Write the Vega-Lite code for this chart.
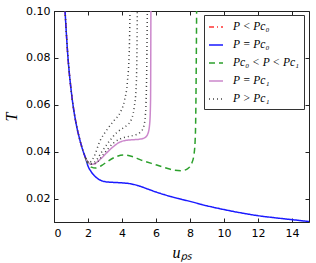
{
  "$schema": "https://vega.github.io/schema/vega-lite/v6.json",
  "width": 255,
  "height": 211,
  "autosize": {"type": "none"},
  "padding": {"left": 54, "top": 11, "right": 7, "bottom": 41},
  "background": "white",
  "config": {
    "view": {"stroke": "#222", "strokeWidth": 1},
    "axis": {
      "labelFont": "DejaVu Sans",
      "labelFontSize": 11,
      "labelColor": "black",
      "domainColor": "#222",
      "tickColor": "#222",
      "grid": false,
      "titleFont": "Liberation Serif",
      "titleFontStyle": "italic",
      "titleFontWeight": "normal",
      "titleFontSize": 16,
      "titleColor": "black"
    }
  },
  "data": {
    "values": [
      {"s": "P < Pc₀", "c": "r", "x": 0.65, "T": 0.1},
      {"s": "P < Pc₀", "c": "r", "x": 0.8, "T": 0.0823},
      {"s": "P < Pc₀", "c": "r", "x": 1.06, "T": 0.0631},
      {"s": "P < Pc₀", "c": "r", "x": 1.3, "T": 0.052},
      {"s": "P < Pc₀", "c": "r", "x": 1.5, "T": 0.0456},
      {"s": "P < Pc₀", "c": "r", "x": 1.7, "T": 0.0405},
      {"s": "P < Pc₀", "c": "r", "x": 1.86, "T": 0.0372},

      {"s": "P = Pc₀", "c": "b", "x": 0.65, "T": 0.1},
      {"s": "P = Pc₀", "c": "b", "x": 0.8, "T": 0.0823},
      {"s": "P = Pc₀", "c": "b", "x": 1.06, "T": 0.0631},
      {"s": "P = Pc₀", "c": "b", "x": 1.3, "T": 0.052},
      {"s": "P = Pc₀", "c": "b", "x": 1.5, "T": 0.0456},
      {"s": "P = Pc₀", "c": "b", "x": 1.7, "T": 0.0405},
      {"s": "P = Pc₀", "c": "b", "x": 1.86, "T": 0.0372},
      {"s": "P = Pc₀", "c": "b", "x": 2.0, "T": 0.0339},
      {"s": "P = Pc₀", "c": "b", "x": 2.2, "T": 0.0313},
      {"s": "P = Pc₀", "c": "b", "x": 2.5, "T": 0.0289},
      {"s": "P = Pc₀", "c": "b", "x": 2.8, "T": 0.0276},
      {"s": "P = Pc₀", "c": "b", "x": 3.1, "T": 0.0271},
      {"s": "P = Pc₀", "c": "b", "x": 3.5, "T": 0.0269},
      {"s": "P = Pc₀", "c": "b", "x": 4.0, "T": 0.0267},
      {"s": "P = Pc₀", "c": "b", "x": 4.5, "T": 0.0263},
      {"s": "P = Pc₀", "c": "b", "x": 5.0, "T": 0.0254},
      {"s": "P = Pc₀", "c": "b", "x": 5.5, "T": 0.0241},
      {"s": "P = Pc₀", "c": "b", "x": 6.0, "T": 0.0228},
      {"s": "P = Pc₀", "c": "b", "x": 7.0, "T": 0.0206},
      {"s": "P = Pc₀", "c": "b", "x": 8.0, "T": 0.0188},
      {"s": "P = Pc₀", "c": "b", "x": 9.0, "T": 0.0169},
      {"s": "P = Pc₀", "c": "b", "x": 10.0, "T": 0.0153},
      {"s": "P = Pc₀", "c": "b", "x": 11.0, "T": 0.0139},
      {"s": "P = Pc₀", "c": "b", "x": 12.0, "T": 0.0127},
      {"s": "P = Pc₀", "c": "b", "x": 13.0, "T": 0.0118},
      {"s": "P = Pc₀", "c": "b", "x": 14.0, "T": 0.011},
      {"s": "P = Pc₀", "c": "b", "x": 15.0, "T": 0.0102},

      {"s": "Pc₀ < P < Pc₁", "c": "g", "x": 1.86, "T": 0.0372},
      {"s": "Pc₀ < P < Pc₁", "c": "g", "x": 2.0, "T": 0.035},
      {"s": "Pc₀ < P < Pc₁", "c": "g", "x": 2.2, "T": 0.0334},
      {"s": "Pc₀ < P < Pc₁", "c": "g", "x": 2.45, "T": 0.033},
      {"s": "Pc₀ < P < Pc₁", "c": "g", "x": 2.8, "T": 0.0341},
      {"s": "Pc₀ < P < Pc₁", "c": "g", "x": 3.1, "T": 0.0356},
      {"s": "Pc₀ < P < Pc₁", "c": "g", "x": 3.6, "T": 0.0377},
      {"s": "Pc₀ < P < Pc₁", "c": "g", "x": 4.08, "T": 0.0386},
      {"s": "Pc₀ < P < Pc₁", "c": "g", "x": 4.6, "T": 0.0379},
      {"s": "Pc₀ < P < Pc₁", "c": "g", "x": 5.06, "T": 0.0366},
      {"s": "Pc₀ < P < Pc₁", "c": "g", "x": 6.04, "T": 0.0343},
      {"s": "Pc₀ < P < Pc₁", "c": "g", "x": 6.6, "T": 0.033},
      {"s": "Pc₀ < P < Pc₁", "c": "g", "x": 7.1, "T": 0.0321},
      {"s": "Pc₀ < P < Pc₁", "c": "g", "x": 7.5, "T": 0.0319},
      {"s": "Pc₀ < P < Pc₁", "c": "g", "x": 7.85, "T": 0.0327},
      {"s": "Pc₀ < P < Pc₁", "c": "g", "x": 8.1, "T": 0.035},
      {"s": "Pc₀ < P < Pc₁", "c": "g", "x": 8.24, "T": 0.039},
      {"s": "Pc₀ < P < Pc₁", "c": "g", "x": 8.32, "T": 0.048},
      {"s": "Pc₀ < P < Pc₁", "c": "g", "x": 8.36, "T": 0.07},
      {"s": "Pc₀ < P < Pc₁", "c": "g", "x": 8.39, "T": 0.1},

      {"s": "P = Pc₁", "c": "p", "x": 1.86, "T": 0.0372},
      {"s": "P = Pc₁", "c": "p", "x": 2.0, "T": 0.0355},
      {"s": "P = Pc₁", "c": "p", "x": 2.2, "T": 0.0346},
      {"s": "P = Pc₁", "c": "p", "x": 2.4, "T": 0.0349},
      {"s": "P = Pc₁", "c": "p", "x": 2.7, "T": 0.0366},
      {"s": "P = Pc₁", "c": "p", "x": 3.1, "T": 0.0395},
      {"s": "P = Pc₁", "c": "p", "x": 3.5, "T": 0.0422},
      {"s": "P = Pc₁", "c": "p", "x": 3.88, "T": 0.0441},
      {"s": "P = Pc₁", "c": "p", "x": 4.3, "T": 0.0449},
      {"s": "P = Pc₁", "c": "p", "x": 4.7, "T": 0.0451},
      {"s": "P = Pc₁", "c": "p", "x": 5.1, "T": 0.0454},
      {"s": "P = Pc₁", "c": "p", "x": 5.35, "T": 0.046},
      {"s": "P = Pc₁", "c": "p", "x": 5.53, "T": 0.0478},
      {"s": "P = Pc₁", "c": "p", "x": 5.63, "T": 0.052},
      {"s": "P = Pc₁", "c": "p", "x": 5.68, "T": 0.062},
      {"s": "P = Pc₁", "c": "p", "x": 5.7, "T": 0.1},

      {"s": "P > Pc₁", "c": "k1", "x": 0.65, "T": 0.1},
      {"s": "P > Pc₁", "c": "k1", "x": 0.8, "T": 0.0823},
      {"s": "P > Pc₁", "c": "k1", "x": 1.06, "T": 0.0631},
      {"s": "P > Pc₁", "c": "k1", "x": 1.3, "T": 0.052},
      {"s": "P > Pc₁", "c": "k1", "x": 1.5, "T": 0.0456},
      {"s": "P > Pc₁", "c": "k1", "x": 1.7, "T": 0.0405},
      {"s": "P > Pc₁", "c": "k1", "x": 1.86, "T": 0.0372},
      {"s": "P > Pc₁", "c": "k1", "x": 2.0, "T": 0.0356},
      {"s": "P > Pc₁", "c": "k1", "x": 2.12, "T": 0.0356},
      {"s": "P > Pc₁", "c": "k1", "x": 2.35, "T": 0.0378},
      {"s": "P > Pc₁", "c": "k1", "x": 2.7, "T": 0.0445},
      {"s": "P > Pc₁", "c": "k1", "x": 3.1, "T": 0.0492},
      {"s": "P > Pc₁", "c": "k1", "x": 3.5, "T": 0.053},
      {"s": "P > Pc₁", "c": "k1", "x": 3.88, "T": 0.0565},
      {"s": "P > Pc₁", "c": "k1", "x": 4.15, "T": 0.062},
      {"s": "P > Pc₁", "c": "k1", "x": 4.32, "T": 0.07},
      {"s": "P > Pc₁", "c": "k1", "x": 4.43, "T": 0.0834},
      {"s": "P > Pc₁", "c": "k1", "x": 4.47, "T": 0.1},

      {"s": "P > Pc₁", "c": "k2", "x": 1.86, "T": 0.0372},
      {"s": "P > Pc₁", "c": "k2", "x": 2.0, "T": 0.0355},
      {"s": "P > Pc₁", "c": "k2", "x": 2.18, "T": 0.0348},
      {"s": "P > Pc₁", "c": "k2", "x": 2.4, "T": 0.0356},
      {"s": "P > Pc₁", "c": "k2", "x": 2.8, "T": 0.0398},
      {"s": "P > Pc₁", "c": "k2", "x": 3.29, "T": 0.0448},
      {"s": "P > Pc₁", "c": "k2", "x": 3.7, "T": 0.0482},
      {"s": "P > Pc₁", "c": "k2", "x": 4.08, "T": 0.0502},
      {"s": "P > Pc₁", "c": "k2", "x": 4.5, "T": 0.053},
      {"s": "P > Pc₁", "c": "k2", "x": 4.72, "T": 0.059},
      {"s": "P > Pc₁", "c": "k2", "x": 4.83, "T": 0.067},
      {"s": "P > Pc₁", "c": "k2", "x": 4.88, "T": 0.083},
      {"s": "P > Pc₁", "c": "k2", "x": 4.9, "T": 0.1},

      {"s": "P > Pc₁", "c": "k3", "x": 1.86, "T": 0.0372},
      {"s": "P > Pc₁", "c": "k3", "x": 2.0, "T": 0.0355},
      {"s": "P > Pc₁", "c": "k3", "x": 2.22, "T": 0.0346},
      {"s": "P > Pc₁", "c": "k3", "x": 2.45, "T": 0.035},
      {"s": "P > Pc₁", "c": "k3", "x": 2.9, "T": 0.0388},
      {"s": "P > Pc₁", "c": "k3", "x": 3.49, "T": 0.0436},
      {"s": "P > Pc₁", "c": "k3", "x": 3.9, "T": 0.0455},
      {"s": "P > Pc₁", "c": "k3", "x": 4.27, "T": 0.0463},
      {"s": "P > Pc₁", "c": "k3", "x": 4.7, "T": 0.047},
      {"s": "P > Pc₁", "c": "k3", "x": 5.06, "T": 0.0482},
      {"s": "P > Pc₁", "c": "k3", "x": 5.27, "T": 0.0505},
      {"s": "P > Pc₁", "c": "k3", "x": 5.38, "T": 0.056},
      {"s": "P > Pc₁", "c": "k3", "x": 5.44, "T": 0.068},
      {"s": "P > Pc₁", "c": "k3", "x": 5.49, "T": 0.1}
    ]
  },
  "resolve": {"axis": {"x": "independent", "y": "independent"}},
  "layer": [
    {
      "mark": {"type": "line", "interpolate": "monotone", "clip": true},
      "encoding": {
        "x": {
          "field": "x", "type": "quantitative",
          "scale": {"domain": [0, 15], "nice": false, "zero": false},
          "axis": {"orient": "bottom", "values": [0, 2, 4, 6, 8, 10, 12, 14], "tickSize": -4, "labelPadding": 9, "title": "uₚₛ", "titlePadding": 6}
        },
        "y": {
          "field": "T", "type": "quantitative",
          "scale": {"domain": [0.01, 0.1], "nice": false, "zero": false},
          "axis": {"orient": "left", "values": [0.02, 0.04, 0.06, 0.08, 0.1], "format": ".2f", "tickSize": -4, "labelPadding": 8, "title": "T", "titlePadding": 6}
        },
        "detail": {"field": "c"},
        "color": {
          "field": "s", "type": "nominal",
          "scale": {
            "domain": ["P < Pc₀", "P = Pc₀", "Pc₀ < P < Pc₁", "P = Pc₁", "P > Pc₁"],
            "range": ["#ff3333", "#1a1aff", "#2ca02c", "#cc88cc", "#444444"]
          },
          "legend": {
            "title": null,
            "orient": "none",
            "legendX": 150,
            "legendY": 4,
            "padding": 4,
            "strokeColor": "#333",
            "fillColor": "white",
            "symbolType": "stroke",
            "symbolSize": 196,
            "symbolStrokeWidth": 1.5,
            "labelFont": "Liberation Serif",
            "labelFontStyle": "italic",
            "labelFontSize": 11.5,
            "labelColor": "black",
            "rowPadding": 4,
            "labelOffset": 9,
            "labelLimit": 200,
            "values": ["P < Pc₀", "P = Pc₀", "Pc₀ < P < Pc₁", "P = Pc₁", "P > Pc₁"]
          }
        },
        "strokeDash": {
          "field": "s", "type": "nominal",
          "scale": {
            "domain": ["P < Pc₀", "P = Pc₀", "Pc₀ < P < Pc₁", "P = Pc₁", "P > Pc₁"],
            "range": [[5, 3, 1, 3], [1, 0], [6, 4], [1, 0], [1, 3]]
          },
          "legend": null
        },
        "strokeWidth": {
          "field": "s", "type": "nominal",
          "scale": {
            "domain": ["P < Pc₀", "P = Pc₀", "Pc₀ < P < Pc₁", "P = Pc₁", "P > Pc₁"],
            "range": [1.5, 1.5, 1.5, 1, 1.3]
          },
          "legend": null
        }
      }
    },
    {
      "mark": {"type": "point", "opacity": 0},
      "encoding": {
        "x": {
          "field": "x", "type": "quantitative",
          "axis": {"orient": "top", "values": [0, 2, 4, 6, 8, 10, 12, 14], "tickSize": -4, "labels": false, "domain": false, "title": null}
        },
        "y": {
          "field": "T", "type": "quantitative",
          "axis": {"orient": "right", "values": [0.02, 0.04, 0.06, 0.08, 0.1], "tickSize": -4, "labels": false, "domain": false, "title": null}
        }
      }
    }
  ]
}
